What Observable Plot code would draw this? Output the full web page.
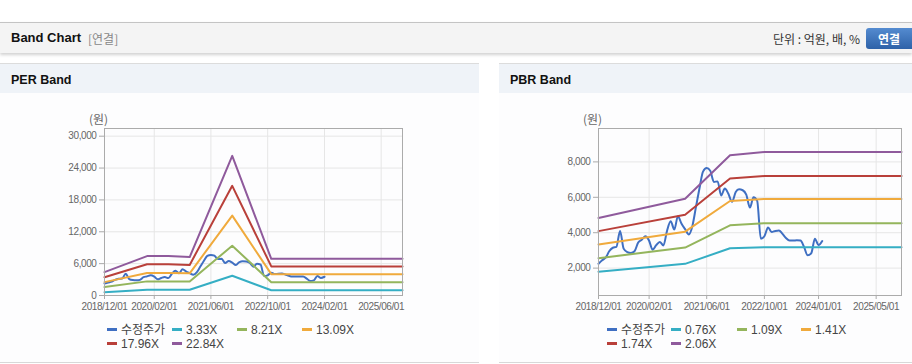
<!DOCTYPE html>
<html>
<head>
<meta charset="utf-8">
<script src="https://cdn.jsdelivr.net/npm/d3@7"></script>
<script src="https://cdn.jsdelivr.net/npm/@observablehq/plot@0.6"></script>
<style>
  html, body { margin:0; padding:0; }
  body { width:912px; height:364px; position:relative; overflow:hidden; background:#fff;
         font-family:"Liberation Sans", Arial, "Noto Sans CJK KR", sans-serif; color:#333; }
  .abs { position:absolute; white-space:nowrap; }
  .chart svg text { letter-spacing:-0.4px; }
  .lg { position:absolute; font-size:12px; color:#444; white-space:nowrap; line-height:13px; }
  .lg i { display:inline-block; width:10px; height:3px; vertical-align:middle; margin-right:4px; margin-top:-2px; }
</style>
</head>
<body>
<!-- header -->
<div class="abs" style="left:0;top:22px;width:912px;height:30px;background:#f4f4f4;border-top:1px solid #c4c4c4;box-shadow:0 2px 3px rgba(0,0,0,0.18);"></div>
<div class="abs" style="left:11px;top:30px;font-size:13px;font-weight:bold;color:#111;">Band Chart</div>
<div class="abs" style="left:88px;top:31px;font-size:12px;color:#888;font-family:'Noto Sans CJK KR',sans-serif;line-height:15px;">[연결]</div>
<div class="abs" style="right:52px;top:31px;font-size:12px;color:#333;font-family:'Noto Sans CJK KR',sans-serif;line-height:15px;">단위 : 억원, 배, %</div>
<div class="abs" style="left:866px;top:28px;width:50px;height:21px;border-radius:3px;background:linear-gradient(#548bd0,#2e62a8);color:#fff;font-weight:bold;font-size:12px;line-height:21px;text-align:center;font-family:'Noto Sans CJK KR',sans-serif;padding-right:4px;box-sizing:border-box;">연결</div>

<!-- panels -->
<div class="abs" style="left:0;top:63px;width:479px;height:298px;background:#fdfdfe;border-top:1px solid #dcdcdc;border-bottom:1px solid #d8d8d8;"></div>
<div class="abs" style="left:0;top:64px;width:479px;height:29px;background:#eff3f8;"></div>
<div class="abs" style="left:11px;top:73px;font-size:12.5px;font-weight:bold;color:#111;">PER Band</div>

<div class="abs" style="left:499px;top:63px;width:413px;height:298px;background:#fdfdfe;border-top:1px solid #dcdcdc;border-bottom:1px solid #d8d8d8;"></div>
<div class="abs" style="left:499px;top:64px;width:413px;height:29px;background:#eff3f8;"></div>
<div class="abs" style="left:510px;top:73px;font-size:12.5px;font-weight:bold;color:#111;">PBR Band</div>

<div class="abs" style="left:89px;top:111px;font-size:12px;color:#666;font-family:'Noto Sans CJK KR',sans-serif;line-height:15px;">(원)</div>
<div class="abs" style="left:583px;top:111px;font-size:12px;color:#666;font-family:'Noto Sans CJK KR',sans-serif;line-height:15px;">(원)</div>

<div id="per" class="abs chart" style="left:0;top:100px;"></div>
<div id="pbr" class="abs chart" style="left:500px;top:100px;"></div>
<div id="legends"></div>

<script>
// ---------- data ----------
const colors = {price:"#3f6fc2", c1:"#35aec4", c2:"#94b55c", c3:"#f0aa3c", c4:"#b9403a", c5:"#8f5a9c"};

// adjusted price (수정주가), monthly from 2018-12 to 2024-02
const priceStart = "2018-12-01";
const priceEnd = "2024-03-01";
const priceValues = [2250,2450,2600,2950,3150,3200,4100,3100,2900,2850,
  2950,3450,3600,3800,3550,3040,3300,3480,3280,4100,
  4650,4180,4930,4500,4200,3900,4400,5400,6500,7450,
  7650,7500,6870,6900,6100,6500,6200,5750,6300,6450,
  6400,6150,5420,6000,5800,3660,3800,4300,4040,4100,
  4130,3950,3700,3560,3560,3570,3560,3190,2720,2850,
  3660,3300,3530];

// PER band
const perDates = ["2018-12-01","2019-12-01","2020-06-01","2020-12-01","2021-12-01","2022-11-01","2025-12-01"];
const per333  = [620, 1090, 1090, 1070, 3720, 990, 990];
const per821  = [1600, 2660, 2660, 2620, 9380, 2500, 2500];
const per1309 = [2520, 4230, 4230, 4180, 15050, 4020, 4020];
const per1796 = [3450, 5900, 5880, 5760, 20650, 5480, 5480];
const per2284 = [4400, 7420, 7420, 7230, 26300, 6900, 6900];
const perLabels = ["수정주가","3.33X","8.21X","13.09X","17.96X","22.84X"];
const perXTicks = ["2018-12-01","2020-02-01","2021-06-01","2022-10-01","2024-02-01","2025-06-01"];
const perYTicks = [0, 6000, 12000, 18000, 24000, 30000];

// PBR band
const pbrDates = ["2018-12-01","2020-12-01","2021-12-15","2022-10-01","2025-12-01"];
const pbr076 = [1800, 2240, 3120, 3180, 3180];
const pbr109 = [2560, 3160, 4420, 4540, 4540];
const pbr141 = [3340, 4060, 5790, 5910, 5910];
const pbr174 = [4090, 5020, 7060, 7200, 7200];
const pbr206 = [4830, 5920, 8380, 8560, 8560];
const pbrLabels = ["수정주가","0.76X","1.09X","1.41X","1.74X","2.06X"];
const pbrXTicks = ["2018-12-01","2020-02-01","2021-06-01","2022-10-01","2024-01-01","2025-05-01"];
const pbrYTicks = [2000, 4000, 6000, 8000];

// ---------- build ----------
const parse = s => new Date(s + "T00:00:00Z");
const priceDates = d3.utcMonth.range(parse(priceStart), parse(priceEnd));
const priceData = priceValues.map((v, i) => ({date: priceDates[i], value: v}));
const series = (dates, vals) => vals.map((v, i) => ({date: parse(dates[i]), value: v}));
const fmtDate = d3.utcFormat("%Y/%m/%d");

function bandChart({width, marginLeft, marginRight, yDomain, xTicks, yTicks, dates, bands}) {
  const xt = xTicks.map(parse);
  const bandColors = [colors.c1, colors.c2, colors.c3, colors.c4, colors.c5];
  return Plot.plot({
    width, height: 220,
    marginLeft, marginRight, marginTop: 28, marginBottom: 25,
    x: {type: "utc", domain: [parse("2018-12-01"), parse("2025-12-01")]},
    y: {domain: yDomain},
    style: {fontFamily: "'Liberation Sans', Arial, sans-serif", fontSize: "10px", color: "#666", background: "transparent", overflow: "visible"},
    marks: [
      Plot.gridX(xt, {stroke: "#e6e6e6", strokeOpacity: 1}),
      Plot.gridY(yTicks, {stroke: "#e6e6e6", strokeOpacity: 1}),
      Plot.axisX(xt, {tickFormat: fmtDate, tickSize: 4, tickPadding: 3, stroke: "#aaa", fill: "#666", label: null}),
      Plot.axisY(yTicks, {tickFormat: d3.format(","), tickSize: 5, tickPadding: 3, stroke: "#aaa", fill: "#666", label: null}),
      Plot.line(priceData, {x: "date", y: "value", stroke: colors.price, strokeWidth: 2, curve: "monotone-x"}),
      ...bands.map((b, i) => Plot.line(series(dates, b), {x: "date", y: "value", stroke: bandColors[i], strokeWidth: 2})),
      Plot.frame({stroke: "#ababab"})
    ]
  });
}

document.getElementById("per").append(bandChart({
  width: 430, marginLeft: 104, marginRight: 28, yDomain: [0, 31450],
  xTicks: perXTicks, yTicks: perYTicks, dates: perDates,
  bands: [per333, per821, per1309, per1796, per2284]
}));
document.getElementById("pbr").append(bandChart({
  width: 412, marginLeft: 98, marginRight: 11, yDomain: [453, 9887],
  xTicks: pbrXTicks, yTicks: pbrYTicks, dates: pbrDates,
  bands: [pbr076, pbr109, pbr141, pbr174, pbr206]
}));

// legends
const legendColors = [colors.price, colors.c1, colors.c2, colors.c3, colors.c4, colors.c5];
function legend(labels, xs, rowYs) {
  const host = document.getElementById("legends");
  labels.forEach((lab, i) => {
    const d = document.createElement("div");
    d.className = "lg";
    d.style.left = xs[i % 4] + "px";
    d.style.top = rowYs[Math.floor(i / 4)] + "px";
    d.innerHTML = `<i style="background:${legendColors[i]}"></i>${lab}`;
    host.append(d);
  });
}
legend(perLabels, [107, 172, 237, 302], [324, 338]);
legend(pbrLabels, [607, 671, 737, 801], [324, 338]);
</script>
</body>
</html>
